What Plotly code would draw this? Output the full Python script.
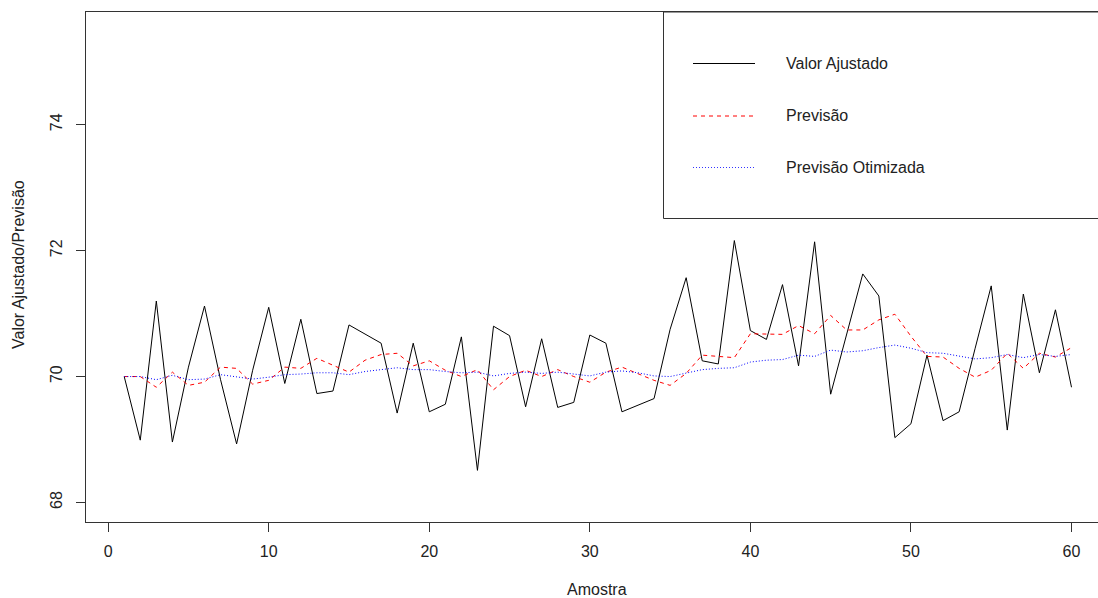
import plotly.graph_objects as go

amostra = list(range(1, 61))

valor_ajustado = [
    70.00, 68.99, 71.20, 68.96, 70.15, 71.12, 69.95, 68.93, 70.10, 71.10,
    69.89, 70.91, 69.73, 69.77, 70.82, 70.67, 70.53, 69.42, 70.53, 69.44,
    69.56, 70.63, 68.51, 70.80, 70.65, 69.52, 70.60, 69.51, 69.59, 70.66,
    70.53, 69.44, 69.54, 69.65, 70.75, 71.57, 70.25, 70.20, 72.16, 70.73,
    70.59, 71.46, 70.17, 72.14, 69.72, 70.68, 71.63, 71.28, 69.03, 69.25,
    70.34, 69.30, 69.44, 70.45, 71.44, 69.15, 71.31, 70.06, 71.06, 69.83,
]

previsao = [
    70.00, 70.00, 69.83, 70.07, 69.86, 69.91, 70.15, 70.13, 69.88, 69.94,
    70.15, 70.13, 70.29, 70.18, 70.07, 70.26, 70.35, 70.37, 70.17, 70.25,
    70.10, 70.00, 70.11, 69.79, 70.00, 70.10, 70.00, 70.11, 70.00, 69.91,
    70.07, 70.15, 70.04, 69.94, 69.86, 70.05, 70.34, 70.32, 70.30, 70.68,
    70.67, 70.67, 70.81, 70.68, 70.97, 70.74, 70.74, 70.90, 70.99, 70.64,
    70.32, 70.31, 70.13, 69.99, 70.10, 70.37, 70.13, 70.37, 70.31, 70.46,
]

previsao_otimizada = [
    70.00, 70.00, 69.95, 70.02, 69.95, 69.96, 70.03, 70.00, 69.96, 69.99,
    70.03, 70.04, 70.06, 70.06, 70.03, 70.08, 70.11, 70.14, 70.11, 70.11,
    70.08, 70.06, 70.07, 70.01, 70.05, 70.07, 70.05, 70.07, 70.04, 70.01,
    70.07, 70.09, 70.06, 70.01, 70.00, 70.05, 70.11, 70.13, 70.14, 70.23,
    70.26, 70.27, 70.34, 70.32, 70.42, 70.39, 70.41, 70.46, 70.50, 70.45,
    70.38, 70.37, 70.32, 70.28, 70.30, 70.35, 70.30, 70.35, 70.32, 70.35,
]

x_ticks = [0, 10, 20, 30, 40, 50, 60]
y_ticks = [68, 70, 72, 74]
legend_labels = ["Valor Ajustado", "Previsão", "Previsão Otimizada"]

FONT = "Liberation Sans, Arial, sans-serif"
TXT = "#222222"
AX = "#333333"

fig = go.Figure()
fig.add_trace(go.Scatter(x=amostra, y=valor_ajustado, mode="lines",
                         line=dict(color="black", width=1), name=legend_labels[0]))
fig.add_trace(go.Scatter(x=amostra, y=previsao, mode="lines",
                         line=dict(color="#FF0000", width=1, dash="4px,4px"), name=legend_labels[1]))
fig.add_trace(go.Scatter(x=amostra, y=previsao_otimizada, mode="lines",
                         line=dict(color="#0000FF", width=1, dash="1px,2px"), name=legend_labels[2]))

W, H = 1098, 598
L, R, T, B = 86, 0, 12, 76
pw, ph = W - L - R, H - T - B

def px_x(p):
    return (p - L) / pw

def px_y(p):
    return 1 - (p - T) / ph

shapes = []
annotations = []
# legend box
shapes.append(dict(type="rect", xref="paper", yref="paper",
                   x0=px_x(663.5), x1=1.02, y0=px_y(218.5), y1=1.0,
                   line=dict(color=AX, width=1), fillcolor="white", layer="above"))
leg_y = [63.5, 116, 167.5]
leg_dash = ["solid", "4px,4px", "1px,2px"]
leg_col = ["black", "#FF0000", "#3333FF"]
for lab, yy, d, c in zip(legend_labels, leg_y, leg_dash, leg_col):
    shapes.append(dict(type="line", xref="paper", yref="paper",
                       x0=px_x(693), x1=px_x(755), y0=px_y(yy), y1=px_y(yy),
                       line=dict(color=c, width=1, dash=d), layer="above"))
    annotations.append(dict(xref="paper", yref="paper", x=px_x(784), y=px_y(yy),
                            xanchor="left", yanchor="middle", showarrow=False,
                            text=lab, font=dict(family=FONT, size=16, color=TXT)))

# axis titles as annotations for exact placement
annotations.append(dict(xref="paper", yref="paper", x=px_x(597), y=px_y(589),
                        xanchor="center", yanchor="middle", showarrow=False,
                        text="Amostra", font=dict(family=FONT, size=16, color=TXT)))
annotations.append(dict(xref="paper", yref="paper", x=px_x(18), y=px_y(265),
                        xanchor="center", yanchor="middle", showarrow=False, textangle=-90,
                        text="Valor Ajustado/Previsão", font=dict(family=FONT, size=16, color=TXT)))

fig.update_layout(
    width=W, height=H,
    margin=dict(l=L, r=R, t=T, b=B, pad=0),
    paper_bgcolor="white", plot_bgcolor="white",
    showlegend=False,
    font=dict(family=FONT, size=16, color=TXT),
    shapes=shapes, annotations=annotations,
    xaxis=dict(range=[-1.38, 61.65], tickvals=x_ticks, ticks="outside", ticklen=9,
               tickcolor=AX, showgrid=False, zeroline=False,
               showline=True, linecolor=AX, linewidth=1, mirror=True,
               ticklabelstandoff=6,
               tickfont=dict(family=FONT, size=16, color=TXT)),
    yaxis=dict(range=[67.69, 75.79], tickvals=y_ticks, ticks="outside", ticklen=9,
               tickcolor=AX, showgrid=False, zeroline=False,
               showline=True, linecolor=AX, linewidth=1, mirror=False,
               tickangle=-90, ticklabelstandoff=8,
               tickfont=dict(family=FONT, size=16, color=TXT)),
)

fig.write_html("out.html", config={"displayModeBar": False},
               post_script="document.body.style.margin='0';document.body.style.padding='0';document.body.style.overflow='hidden';")
